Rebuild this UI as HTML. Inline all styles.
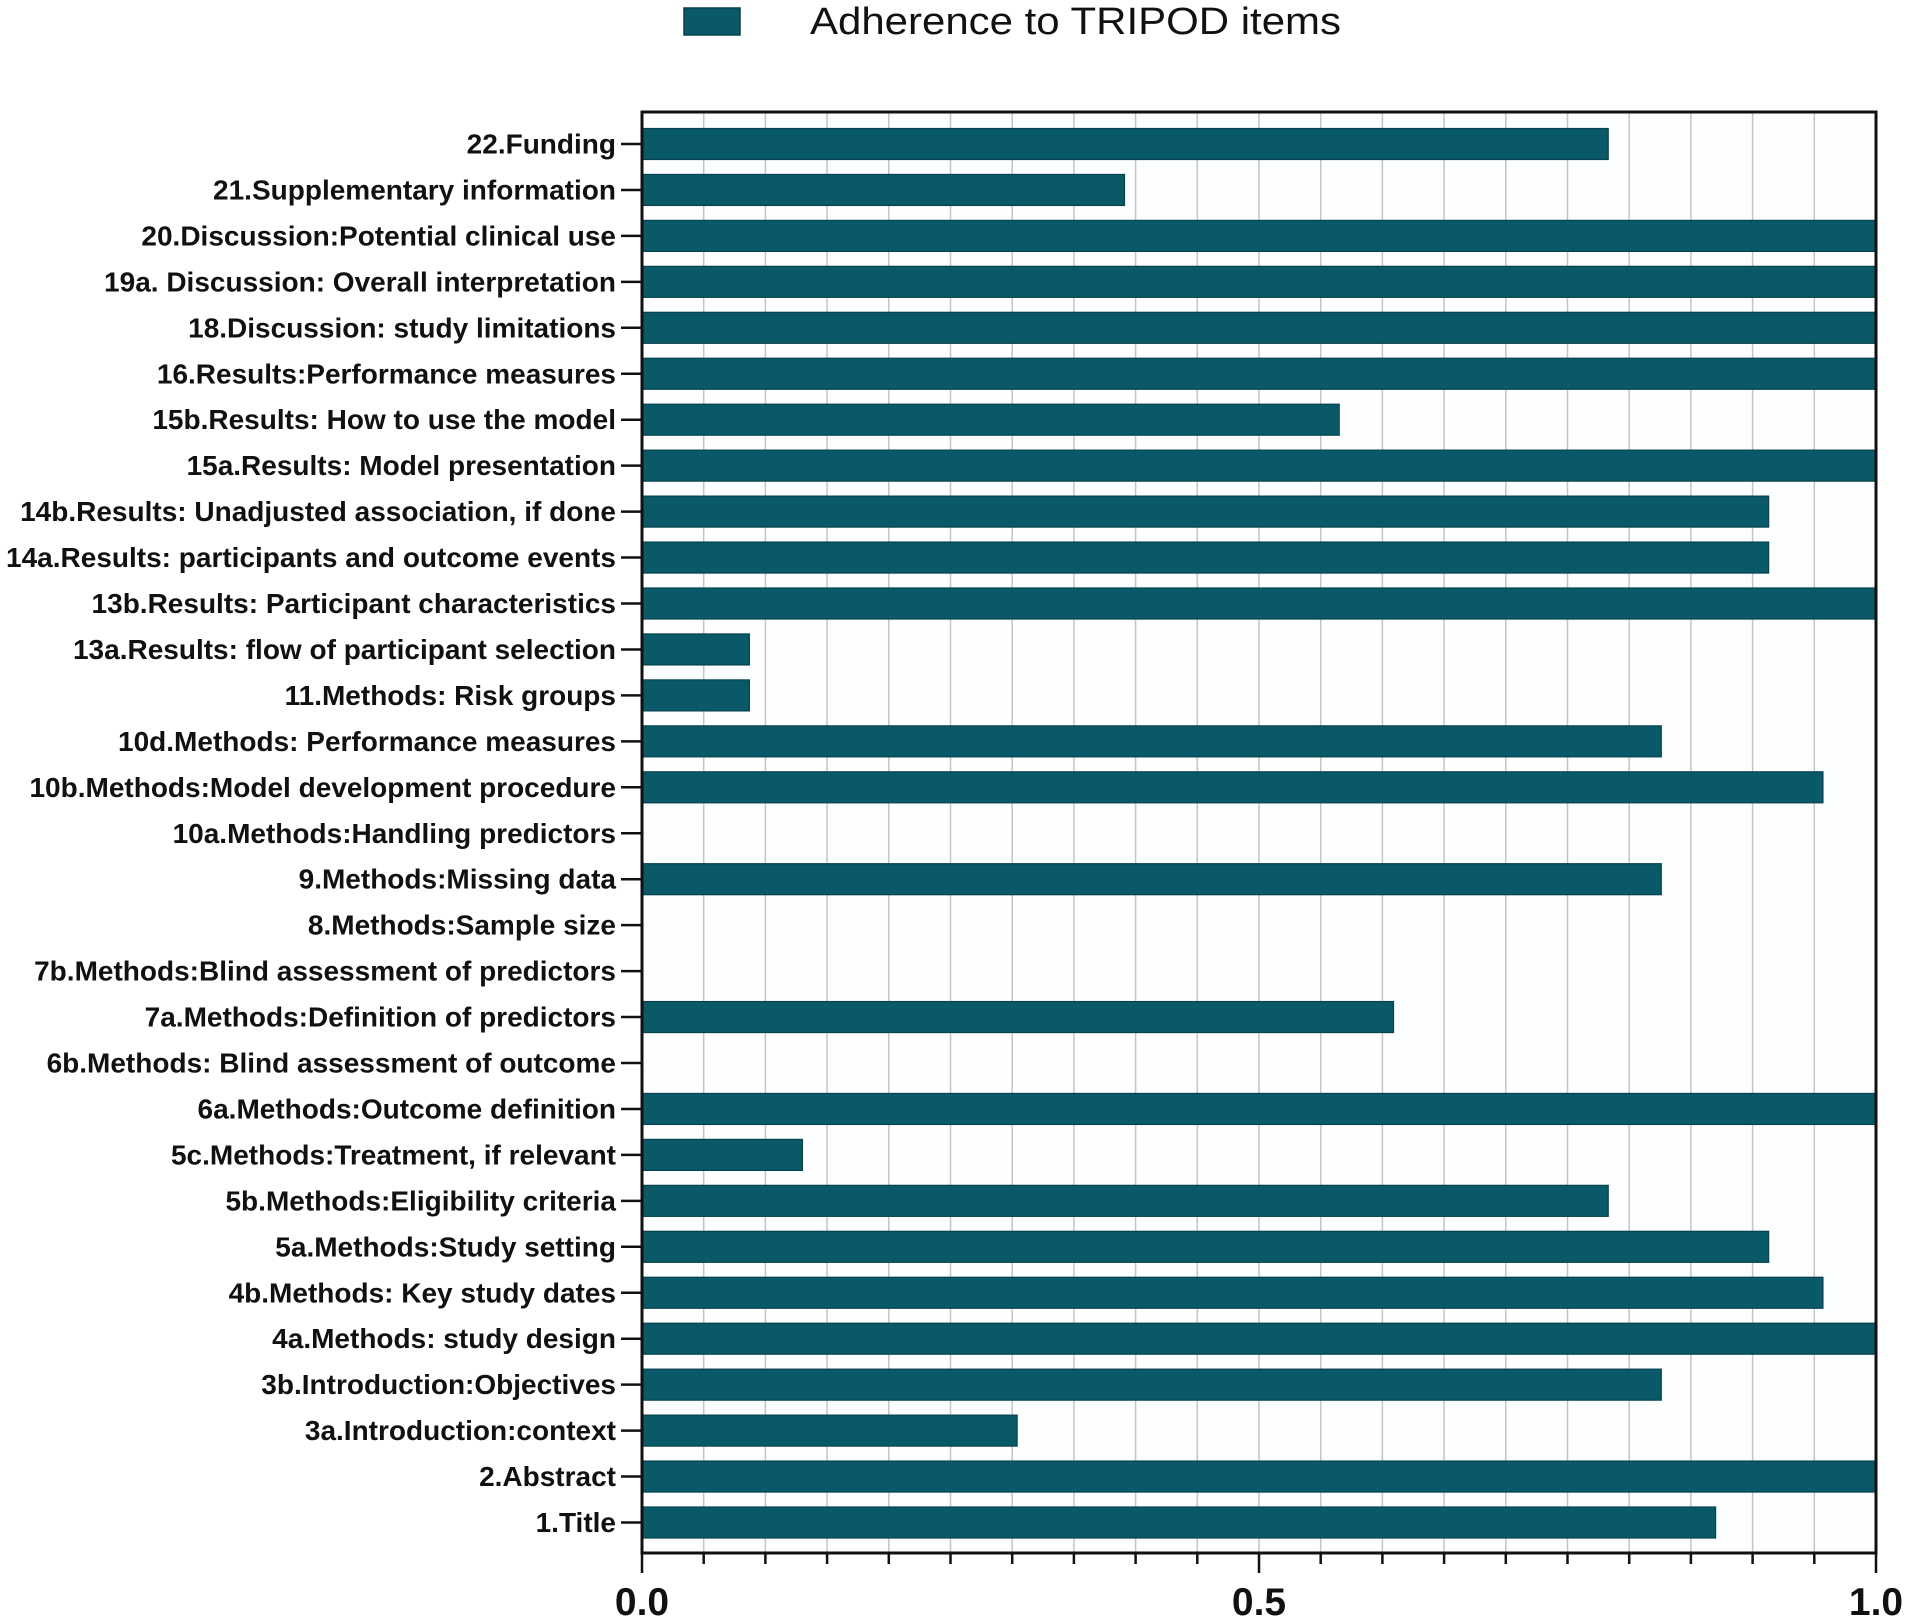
<!DOCTYPE html>
<html><head><meta charset="utf-8">
<style>
html,body{margin:0;padding:0;background:#fff;}
svg{display:block;font-family:"Liberation Sans",Arial,sans-serif;}
</style></head>
<body>
<svg id="chart" width="1905" height="1618" viewBox="0 0 1905 1618" xmlns="http://www.w3.org/2000/svg">
<g id="legend">
  <rect x="684" y="8" width="56" height="27" fill="#0a5969" stroke="#06424e" stroke-width="1.5"/>
  <text x="810" y="34" font-size="38" fill="#111" textLength="531" lengthAdjust="spacingAndGlyphs">Adherence to TRIPOD items</text>
</g>
<g id="grid"></g>
<g id="bars"></g>
<g id="yaxis"></g>
<g id="xaxis"></g>
</svg>
<script>
const categories = ["22.Funding","21.Supplementary information","20.Discussion:Potential clinical use","19a. Discussion: Overall interpretation","18.Discussion: study limitations","16.Results:Performance measures","15b.Results: How to use the model","15a.Results: Model presentation","14b.Results: Unadjusted association, if done","14a.Results: participants and outcome events","13b.Results: Participant characteristics","13a.Results: flow of participant selection","11.Methods: Risk groups","10d.Methods: Performance measures","10b.Methods:Model development procedure","10a.Methods:Handling predictors","9.Methods:Missing data","8.Methods:Sample size","7b.Methods:Blind assessment of predictors","7a.Methods:Definition of predictors","6b.Methods: Blind assessment of outcome","6a.Methods:Outcome definition","5c.Methods:Treatment, if relevant","5b.Methods:Eligibility criteria","5a.Methods:Study setting","4b.Methods: Key study dates","4a.Methods: study design","3b.Introduction:Objectives","3a.Introduction:context","2.Abstract","1.Title"];
const adherence = [0.783,0.391,1,1,1,1,0.565,1,0.913,0.913,1,0.087,0.087,0.826,0.957,0,0.826,0,0,0.609,0,1,0.130,0.783,0.913,0.957,1,0.826,0.304,1,0.870];
const xTicks = [0,0.5,1.0];
const xTickLabels = ["0.0","0.5","1.0"];

const NS="http://www.w3.org/2000/svg";
const L=642,R=1876,T=112,B=1553;
const first=144,step=45.95,barH=31;
const x=v=>L+v*(R-L);
const y=i=>first+i*step;
function mk(tag,attrs,parent){const e=document.createElementNS(NS,tag);for(const k in attrs)e.setAttribute(k,attrs[k]);parent.appendChild(e);return e;}
const grid=document.getElementById('grid'),bars=document.getElementById('bars'),ya=document.getElementById('yaxis'),xa=document.getElementById('xaxis');
mk('rect',{x:L,y:T,width:R-L,height:B-T,fill:'#fdfeff'},grid);
for(let k=1;k<20;k++){
  const gl=mk('line',{x1:x(k/20),x2:x(k/20),y1:T,y2:B,stroke:'#c4c4c4','stroke-width':1.5},grid);
  
  
}
categories.forEach((c,i)=>{
  const cy=y(i);
  if(adherence[i]>0){
    const b=mk('rect',{x:L,y:cy-barH/2,width:x(adherence[i])-L,height:barH,fill:'#0a5969',stroke:'#06424e','stroke-width':1.2},bars);
    
    
  }
  const t=mk('line',{x1:621,x2:L,y1:cy,y2:cy,stroke:'#111','stroke-width':2.5},ya);
  
  
  const lb=mk('text',{x:616,y:cy+9.5,'text-anchor':'end','font-size':28,'font-weight':'bold',fill:'#111'},ya);
  lb.textContent=c;
  
  
});
const frame=mk('rect',{x:L,y:T,width:R-L,height:B-T,fill:'none',stroke:'#111','stroke-width':3},xa);


for(let k=0;k<=20;k++){
  const major=k%10===0;
  const tk=mk('line',{x1:x(k/20),x2:x(k/20),y1:B,y2:B+(major?20:11),stroke:'#111','stroke-width':2.5},xa);
  
  
}
xTicks.forEach((v,i)=>{
  const t=mk('text',{x:x(v),y:1615,'text-anchor':'middle','font-size':39,'font-weight':'bold',fill:'#111'},xa);
  t.textContent=xTickLabels[i];
  
  
});
</script>
</body></html>
